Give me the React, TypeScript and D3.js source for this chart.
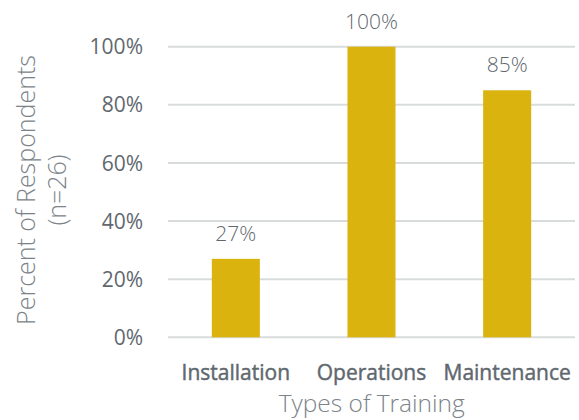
import React from "react";
import * as d3 from "d3";

const categories = ["Installation", "Operations", "Maintenance"];
const values = [0.27, 1.0, 0.85];
const yTicks = [0, 0.2, 0.4, 0.6, 0.8, 1.0];
const yTitleLines = ["Percent of Respondents", "(n=26)"];
const xTitle = "Types of Training";

const W = 579;
const H = 420;
const margin = { left: 168, right: 4, top: 46.7, bottom: 82.7 };
const FONT = "'Open Sans', 'Noto Sans', sans-serif";

export default function App() {
  const x = d3
    .scaleBand<string>()
    .domain(categories)
    .range([margin.left, W - margin.right])
    .paddingInner(0.646)
    .paddingOuter(0.323);
  const y = d3.scaleLinear().domain([0, 1]).range([H - margin.bottom, margin.top]);
  const fmt = d3.format(".0%");
  const plotCenterY = (y(0) + y(1)) / 2;

  return (
    <svg width={W} height={H} style={{ position: "absolute", left: 0, top: 0, background: "#fff" }}>
      {yTicks.map((t) => (
        <g key={t}>
          <line x1={margin.left} x2={W - margin.right} y1={y(t)} y2={y(t)} stroke="#d9dcdd" strokeWidth={2} />
          <text x={143} y={y(t)} dy="0.36em" textAnchor="end" fontFamily={FONT} fontSize={21} fill="#5f686f">
            {fmt(t)}
          </text>
        </g>
      ))}
      {categories.map((c, i) => (
        <g key={c}>
          <rect x={x(c)} y={y(values[i])} width={x.bandwidth()} height={y(0) - y(values[i])} fill="#dbb30e" />
          <text
            x={(x(c) as number) + x.bandwidth() / 2}
            y={y(values[i]) - 18}
            textAnchor="middle"
            fontFamily={FONT}
            fontWeight={300}
            fontSize={21}
            fill="#5f686f"
          >
            {fmt(values[i])}
          </text>
          <text
            x={(x(c) as number) + x.bandwidth() / 2}
            y={380}
            textAnchor="middle"
            fontFamily={FONT}
            fontWeight={400}
            fontSize={21}
            fill="#5f686f"
            stroke="#5f686f"
            strokeWidth={0.45}
          >
            {c}
          </text>
        </g>
      ))}
      <text x={371.7} y={412} textAnchor="middle" fontFamily={FONT} fontWeight={300} fontSize={24.5} fill="#7b8389">
        {xTitle}
      </text>
      {yTitleLines.map((l, i) => (
        <text
          key={l}
          transform={`translate(${35 + i * 31},${plotCenterY - 2}) rotate(-90)`}
          textAnchor="middle"
          fontFamily={FONT}
          fontWeight={300}
          fontSize={25}
          fill="#7b8389"
        >
          {l}
        </text>
      ))}
    </svg>
  );
}
